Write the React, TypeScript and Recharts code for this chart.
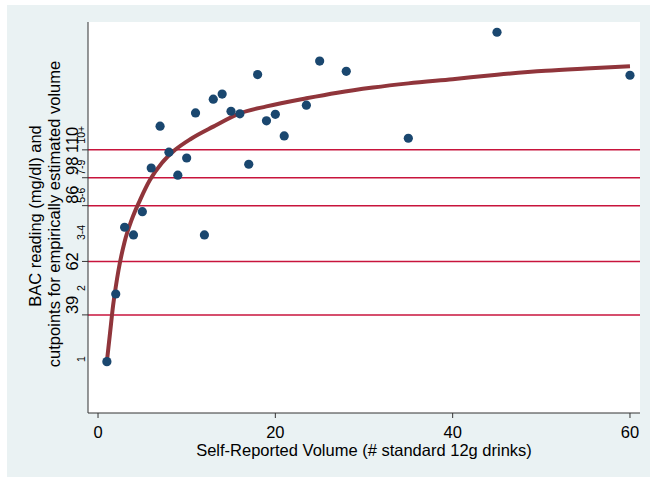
import React from 'react';
import { ComposedChart, Scatter, Line, XAxis, YAxis, ReferenceLine, Label } from 'recharts';

// Observed data: self-reported drinks vs BAC reading
const drinks = [1, 2, 3, 4, 5, 6, 7, 8, 9, 10, 11, 12, 13, 14, 15, 16, 17, 18, 19, 20, 21, 23.5, 25, 28, 35, 45, 60];
const bacReadings = [18.9, 48.0, 76.7, 73.4, 83.4, 102.2, 120.2, 109.0, 99.1, 106.5, 125.9, 73.4, 131.8, 134.0, 126.6, 125.5, 103.8, 142.4, 122.5, 125.3, 116.0, 129.2, 148.2, 143.8, 115.0, 160.6, 142.1];

// Fitted curve
const fitDrinks = [1, 1.35, 1.7, 2, 2.3, 3, 3.8, 4.75, 5.85, 7.2, 8.7, 10.5, 13, 16, 19, 23.5, 27, 31, 35, 40, 45, 50.5, 55, 60];
const fitBac = [19, 31, 43, 51, 58, 70.5, 80, 88.5, 97, 104.3, 110, 114.8, 120, 125.7, 128.7, 132.2, 134.6, 136.8, 138.6, 140.4, 142.3, 144, 145, 146];

// Cutpoints and drink-band labels
const cutpoints = [39, 62, 86, 98, 110];
const bandLabels = ['1', '2', '3-4', '5-6', '7-9', '10+'];
const bandPositions = [20, 50.5, 74.5, 90.5, 102.5, 116.5];
const xTicks = [0, 20, 40, 60];

const points = drinks.map((x, i) => ({ x, y: bacReadings[i] }));
const curve = fitDrinks.map((x, i) => ({ x, y: fitBac[i] }));
const yTicks = [...cutpoints, ...bandPositions].sort((a, b) => a - b);

const FONT = '"Liberation Sans", Arial, Helvetica, sans-serif';
const AXIS = '#333333';
const LABEL_SHIFT: Record<number, number> = { 39: -10, 62: 0, 86: -11, 98: -12, 110: -10 };

const YTick = (props: any) => {
  const { x, y, payload } = props;
  const v = payload.value;
  const ci = cutpoints.indexOf(v);
  if (ci >= 0) {
    const cx = x - 10;
    const cy = y + (LABEL_SHIFT[v] || 0);
    return (
      <g>
        <line x1={x} x2={x + 6} y1={y} y2={y} stroke={AXIS} strokeWidth={1} />
        <text x={cx} y={cy} transform={`rotate(-90 ${cx} ${cy})`} textAnchor="middle" dominantBaseline="central"
          fontFamily={FONT} fontSize={16.5} fill="#000">{String(v)}</text>
      </g>
    );
  }
  const bi = bandPositions.indexOf(v);
  if (bi >= 0) {
    const cx = x - 1;
    return (
      <text x={cx} y={y} transform={`rotate(-90 ${cx} ${y})`} textAnchor="middle" dominantBaseline="central"
        fontFamily={FONT} fontSize={10.5} fill="#000">{bandLabels[bi]}</text>
    );
  }
  return <g />;
};

const YTitle = () => (
  <g>
    <text x={35} y={216} transform="rotate(-90 35 216)" textAnchor="middle" dominantBaseline="central"
      fontFamily={FONT} fontSize={16.5} fill="#000">BAC reading (mg/dl) and</text>
    <text x={53.5} y={214} transform="rotate(-90 53.5 214)" textAnchor="middle" dominantBaseline="central"
      fontFamily={FONT} fontSize={16.5} fill="#000">cutpoints for empirically estimated volume</text>
  </g>
);

const Dot = (props: any) => {
  const { cx, cy } = props;
  return <circle cx={cx} cy={cy} r={4.6} fill="#1A476F" />;
};

export default function App() {
  return (
    <div style={{ position: 'absolute', left: 0, top: 0, width: 650, height: 477, background: '#ffffff', overflow: 'hidden' }}>
      <div style={{ position: 'absolute', left: 7, top: 5, width: 643, height: 472, background: '#EAF2F3' }} />
      <div style={{ position: 'absolute', left: 88, top: 22, width: 552, height: 391, background: '#ffffff' }} />
      <div style={{ position: 'absolute', left: 0, top: 0 }}>
        <ComposedChart width={650} height={477} margin={{ top: 22, right: 10, bottom: 0, left: 0 }}>
          <XAxis type="number" dataKey="x" domain={[-1.13, 61.13]} ticks={xTicks} interval={0} allowDataOverflow
            height={64} tickSize={5} tickMargin={8}
            axisLine={{ stroke: AXIS, strokeWidth: 1 }} tickLine={{ stroke: AXIS, strokeWidth: 1 }}
            tick={{ fill: '#000', fontSize: 16.5, fontFamily: FONT }}>
            <Label value="Self-Reported Volume (# standard 12g drinks)" position="insideBottom" offset={21}
              style={{ fill: '#000', fontSize: 16.5, fontFamily: FONT }} />
          </XAxis>
          <YAxis type="number" dataKey="y" domain={[-3.2, 165]} ticks={yTicks} interval={0} allowDataOverflow
            width={88} tickSize={6} tickMargin={0} tickLine={false}
            axisLine={{ stroke: AXIS, strokeWidth: 1 }} tick={<YTick />}>
            <Label content={<YTitle />} />
          </YAxis>
          {cutpoints.map((v) => (
            <ReferenceLine key={v} y={v} stroke="#C8143C" strokeWidth={1.5} />
          ))}
          <Scatter data={points} dataKey="y" shape={<Dot />} isAnimationActive={false} />
          <Line data={curve} dataKey="y" type="monotone" stroke="#90353B" strokeWidth={4} dot={false}
            activeDot={false} isAnimationActive={false} />
        </ComposedChart>
      </div>
    </div>
  );
}
